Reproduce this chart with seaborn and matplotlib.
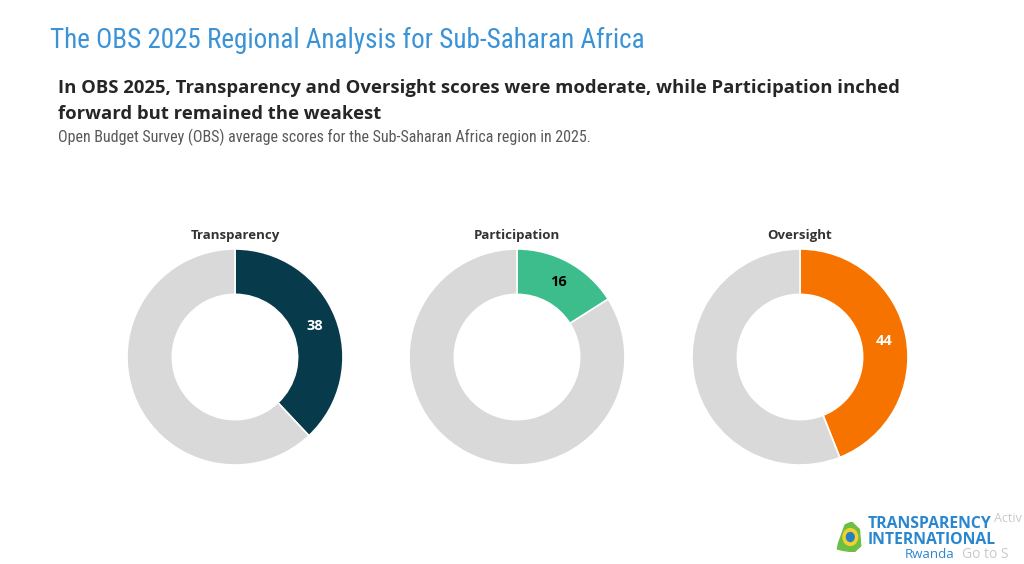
import matplotlib
matplotlib.use("Agg")
import matplotlib.pyplot as plt
from matplotlib import font_manager
import seaborn as sns

# ── Data ──────────────────────────────────────────────
pillars = ["Transparency", "Participation", "Oversight"]
scores = [38, 16, 44]
max_score = 100
pillar_colors = ["#073B4C", "#3DBD8C", "#F77300"]
label_colors = ["white", "black", "white"]
rest_color = "#D9D9D9"

title = "The OBS 2025 Regional Analysis for Sub-Saharan Africa"
subtitle = ("In OBS 2025, Transparency and Oversight scores were moderate, while Participation inched\n"
            "forward but remained the weakest")
note = "Open Budget Survey (OBS) average scores for the Sub-Saharan Africa region in 2025."

sns.set_theme(style="white")

installed = {f.name for f in font_manager.fontManager.ttflist}
def pick(*names):
    for n in names:
        if n in installed:
            return n
    return "DejaVu Sans"

narrow = pick("Liberation Sans Narrow", "DejaVu Sans Condensed", "Roboto Condensed", "Liberation Sans")
bold_font = pick("Open Sans", "Noto Sans", "DejaVu Sans")
plt.rcParams["font.family"] = [bold_font, "DejaVu Sans"]

W, H = 1024, 564
fig = plt.figure(figsize=(W / 100, H / 100), dpi=100)
fig.patch.set_facecolor("white")

# ── Headings ──────────────────────────────────────────
fig.text(50 / W, 1 - 40 / H, title, family=narrow, fontsize=19.5, color="#3A93D6",
         va="center", ha="left")
line1, line2 = subtitle.split("\n")
fig.text(58 / W, 1 - 88 / H, line1, fontsize=13.3, fontweight="bold",
         color="#262626", va="center", ha="left")
fig.text(58 / W, 1 - 114 / H, line2, fontsize=13.3, fontweight="bold",
         color="#262626", va="center", ha="left")
fig.text(58 / W, 1 - 137 / H, note, family=narrow, fontsize=11.5, color="#595959",
         va="center", ha="left")

# ── Donuts ────────────────────────────────────────────
centers = [235, 517, 800]
cy, r_px = 357, 108
for i, (name, val) in enumerate(zip(pillars, scores)):
    cx = centers[i]
    ax = fig.add_axes([(cx - r_px) / W, (H - cy - r_px) / H, 2 * r_px / W, 2 * r_px / H])
    ax.pie([val, max_score - val],
           colors=[pillar_colors[i], rest_color],
           startangle=90, counterclock=False,
           wedgeprops=dict(width=0.42, edgecolor="white", linewidth=1.2),
           labels=[str(val), ""], labeldistance=0.79,
           textprops=dict(color=label_colors[i], fontsize=10.5,
                          fontweight="bold", ha="center", va="center"))
    ax.set_xlim(-1.0, 1.0)
    ax.set_ylim(-1.0, 1.0)
    ax.set_aspect("equal")
    ax.axis("off")
    fig.text(cx / W, 1 - 235 / H, name, fontsize=9.5, fontweight="bold",
             color="#333333", ha="center", va="center")

# ── Logo and watermark ────────────────────────────────
logo = fig.add_axes([836 / W, (H - 552) / H, 26 / W, 30 / H])
logo.fill([0.1, 0.35, 0.6, 0.9, 0.95, 0.7, 0.3, 0.05],
          [0.3, 0.9, 1.0, 0.75, 0.2, 0.0, 0.05, 0.1], color="#6DBE45")
logo.add_patch(plt.Circle((0.55, 0.5), 0.28, color="#F2D22E"))
logo.add_patch(plt.Circle((0.55, 0.5), 0.15, color="#2A7FC1"))
logo.set_xlim(0, 1)
logo.set_ylim(0, 1)
logo.axis("off")
fig.text(868 / W, 1 - 524 / H, "TRANSPARENCY", fontsize=11.3, fontweight="bold",
         color="#2A87CF", ha="left", va="center")
fig.text(868 / W, 1 - 540 / H, "INTERNATIONAL", fontsize=11.3, fontweight="bold",
         color="#2A87CF", ha="left", va="center")
fig.text(905 / W, 1 - 555 / H, "Rwanda", fontsize=9.5, color="#2A87CF",
         ha="left", va="center")
fig.text(994 / W, 1 - 519 / H, "Activ", fontsize=9, color="#BBBBBB", alpha=0.8,
         ha="left", va="center")
fig.text(962 / W, 1 - 555 / H, "Go to S", fontsize=10, color="#BBBBBB", alpha=0.8,
         ha="left", va="center")

fig.savefig("out.png", dpi=100)
